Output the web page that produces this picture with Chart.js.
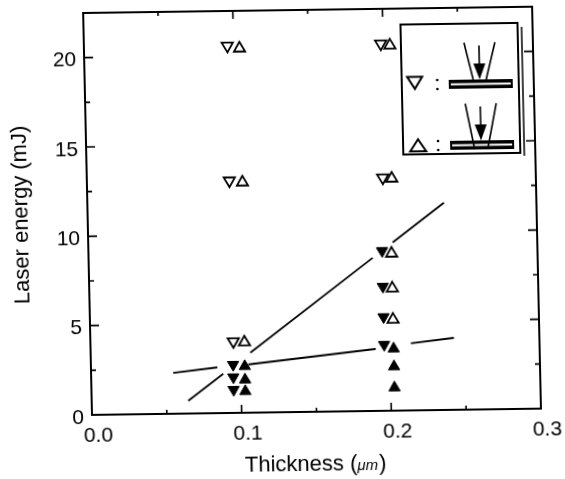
<!DOCTYPE html>
<html>
<head>
<meta charset="utf-8">
<script src="https://cdn.jsdelivr.net/npm/chart.js@4.4.0/dist/chart.umd.min.js"></script>
<style>
  html, body { margin: 0; padding: 0; background: #fff; }
  #wrap { width: 565px; height: 479px; overflow: hidden; }
  /* the scanned figure is slightly skewed */
  #myChart { transform-origin: 92px 415px; transform: matrix(1, -0.014, 0.022, 1, 0, 0); }
</style>
</head>
<body>
<div id="wrap"><canvas id="myChart" width="565" height="479"></canvas></div>
<script>
let xTicks = [0, 0.1, 0.2, 0.3];
let xTickLabels = ['0.0', '0.1', '0.2', '0.3'];
let yTicks = [0, 5, 10, 15, 20];
let yTickLabels = ['0', '5', '10', '15', '20'];

// open down triangles
let openDownX = [0.0958, 0.0952, 0.0955, 0.1983, 0.1977];
let openDownY = [20.55, 13.0, 4.0, 20.55, 13.05];
// open up triangles
let openUpX = [0.1039, 0.1039, 0.1029, 0.2044, 0.2037, 0.2025, 0.2025, 0.2025];
let openUpY = [20.4, 12.9, 3.95, 20.45, 13.0, 8.8, 6.85, 5.1];
// filled down triangles
let fillDownX = [0.095, 0.095, 0.095, 0.1962, 0.1962, 0.1962, 0.1962];
let fillDownY = [2.7, 2.0, 1.3, 8.95, 6.95, 5.25, 3.7];
// filled up triangles
let fillUpX = [0.1028, 0.1028, 0.1028, 0.2025, 0.2025, 0.2025];
let fillUpY = [2.6, 1.85, 1.2, 3.47, 2.47, 1.29];

// fitted lines (null = gap around the markers)
let steepX = [0.0645, 0.0883, 0.0975, 0.1067, 0.1898, 0.1966, 0.2034, 0.2382];
let steepY = [0.71, 2.2, null, 3.36, 8.57, null, 9.42, 11.6];
let shallowX = [0.0549, 0.0844, 0.0948, 0.1052, 0.1905, 0.2023, 0.2141, 0.2429];
let shallowY = [2.29, 2.56, null, 2.7, 3.47, null, 3.76, 4.03];

function pts(xs, ys) {
    return xs.map(function (x, i) { return { x: x, y: ys[i] }; });
}

var FONT = '"Liberation Sans", Arial, sans-serif';

function markerSet(xs, ys, rot, filled) {
    return {
        data: pts(xs, ys),
        pointStyle: 'triangle',
        rotation: rot,
        pointRadius: 6.5,
        borderColor: '#000',
        pointBorderColor: '#000',
        pointBackgroundColor: filled ? '#000' : '#fff',
        pointBorderWidth: filled ? 1 : 1.8,
        showLine: false,
        order: 1
    };
}

function lineSet(xs, ys) {
    return {
        data: pts(xs, ys),
        showLine: true,
        spanGaps: false,
        borderColor: '#000',
        borderWidth: 1.8,
        pointRadius: 0,
        order: 10
    };
}

var frame = {
    id: 'frame',
    afterDatasetsDraw: function (chart) {
        var ctx = chart.ctx, a = chart.chartArea;
        var xs = chart.scales.x, ys = chart.scales.y;
        ctx.save();
        ctx.strokeStyle = '#000';
        ctx.lineWidth = 2;
        ctx.strokeRect(a.left, a.top, a.right - a.left, a.bottom - a.top);
        ctx.lineWidth = 1.6;
        ctx.beginPath();
        xTicks.forEach(function (v, i) {
            var p = xs.getPixelForValue(v);
            ctx.moveTo(p, a.bottom); ctx.lineTo(p, a.bottom - 8);
            ctx.moveTo(p, a.top); ctx.lineTo(p, a.top + 8);
            if (i < xTicks.length - 1) {
                var m = xs.getPixelForValue((v + xTicks[i + 1]) / 2);
                ctx.moveTo(m, a.bottom); ctx.lineTo(m, a.bottom - 4);
                ctx.moveTo(m, a.top); ctx.lineTo(m, a.top + 4);
            }
        });
        yTicks.forEach(function (v) {
            var p = ys.getPixelForValue(v);
            ctx.moveTo(a.left, p); ctx.lineTo(a.left + 9, p);
            ctx.moveTo(a.right, p); ctx.lineTo(a.right - 9, p);
            var m = ys.getPixelForValue(v + 2.5);
            if (m > a.top + 2) {
                ctx.moveTo(a.left, m); ctx.lineTo(a.left + 5, m);
                ctx.moveTo(a.right, m); ctx.lineTo(a.right - 5, m);
            }
        });
        ctx.stroke();
        ctx.restore();
    },
    afterDraw: function (chart) {
        var ctx = chart.ctx;
        ctx.save();
        // inset legend
        ctx.fillStyle = '#fff';
        ctx.strokeStyle = '#000';
        ctx.lineWidth = 2;
        ctx.fillRect(409, 29, 117, 130);
        ctx.strokeRect(409, 29, 117, 130);
        ctx.lineWidth = 1.5;
        ctx.beginPath();
        ctx.moveTo(530, 33); ctx.lineTo(530, 162);
        ctx.stroke();

        function tri(cx, cy, w, h, down) {
            ctx.beginPath();
            if (down) {
                ctx.moveTo(cx - w / 2, cy - h / 2); ctx.lineTo(cx + w / 2, cy - h / 2); ctx.lineTo(cx, cy + h / 2);
            } else {
                ctx.moveTo(cx - w / 2, cy + h / 2); ctx.lineTo(cx + w / 2, cy + h / 2); ctx.lineTo(cx, cy - h / 2);
            }
            ctx.closePath();
            ctx.lineWidth = 2;
            ctx.stroke();
        }
        function dots(x, y1, y2) {
            ctx.fillStyle = '#000';
            ctx.beginPath(); ctx.arc(x, y1, 1.3, 0, Math.PI * 2); ctx.fill();
            ctx.beginPath(); ctx.arc(x, y2, 1.3, 0, Math.PI * 2); ctx.fill();
        }
        function sample(top, through) {
            var cx = 487;
            ctx.fillStyle = '#000';
            ctx.fillRect(456, top, 64, 9);
            ctx.fillStyle = '#fff';
            ctx.fillRect(458, top + 3.5, 60, 2);
            ctx.strokeStyle = '#000';
            ctx.lineWidth = 1.6;
            var end = through ? top + 9 : top;
            ctx.beginPath();
            ctx.moveTo(cx - 15, top - 37); ctx.lineTo(cx - 6.5, end);
            ctx.moveTo(cx + 16, top - 37); ctx.lineTo(cx + 6.5, end);
            ctx.moveTo(cx, top - 34); ctx.lineTo(cx, top - 14);
            ctx.stroke();
            ctx.fillStyle = '#000';
            ctx.beginPath();
            ctx.moveTo(cx - 6, top - 16); ctx.lineTo(cx + 6, top - 16); ctx.lineTo(cx, top);
            ctx.closePath(); ctx.fill();
        }
        ctx.strokeStyle = '#000';
        tri(422, 87.5, 15, 12, true);
        dots(444.5, 85, 94);
        sample(85, false);
        tri(424, 150, 16, 12, false);
        dots(444, 146, 155);
        sample(146, true);

        // x axis title with small micro-metre unit
        ctx.fillStyle = '#000';
        ctx.textBaseline = 'alphabetic';
        var f1 = '22px ' + FONT, f2 = 'italic 15px ' + FONT;
        var s1 = 'Thickness (', s2 = '\u03bcm', s3 = ')';
        ctx.font = f1; var w1 = ctx.measureText(s1).width, w3 = ctx.measureText(s3).width;
        ctx.font = f2; var w2 = ctx.measureText(s2).width;
        var x0 = 314 - (w1 + w2 + w3) / 2, by = 474;
        ctx.font = f1; ctx.fillText(s1, x0, by);
        ctx.font = f2; ctx.fillText(s2, x0 + w1, by);
        ctx.font = f1; ctx.fillText(s3, x0 + w1 + w2 + 1, by);
        ctx.restore();
    }
};

var ctx = document.getElementById('myChart');
var myChart = new Chart(ctx, {
    type: 'scatter',
    data: {
        datasets: [
            markerSet(openDownX, openDownY, 180, false),
            markerSet(openUpX, openUpY, 0, false),
            markerSet(fillDownX, fillDownY, 180, true),
            markerSet(fillUpX, fillUpY, 0, true),
            lineSet(steepX, steepY),
            lineSet(shallowX, shallowY)
        ]
    },
    options: {
        responsive: false,
        animation: false,
        events: [],
        layout: { padding: { left: 0, right: 24, top: 13, bottom: 0 } },
        plugins: { legend: { display: false }, tooltip: { enabled: false } },
        scales: {
            x: {
                type: 'linear', min: 0, max: 0.3,
                grid: { display: false, drawTicks: false },
                border: { display: false },
                afterBuildTicks: function (s) { s.ticks = xTicks.map(function (v) { return { value: v }; }); },
                afterFit: function (s) { s.height = 64; s.paddingLeft = 0; s.paddingRight = 0; },
                ticks: {
                    color: '#000', padding: 9, labelOffset: 6, maxRotation: 0,
                    font: { family: FONT, size: 21 },
                    callback: function (v, i) { return xTickLabels[i]; }
                }
            },
            y: {
                type: 'linear', min: 0, max: 22.5,
                grid: { display: false, drawTicks: false },
                border: { display: false },
                afterBuildTicks: function (s) { s.ticks = yTicks.map(function (v) { return { value: v }; }); },
                afterFit: function (s) { s.width = 92; s.paddingTop = 0; s.paddingBottom = 0; },
                ticks: {
                    color: '#000', padding: 8, labelOffset: 3,
                    font: { family: FONT, size: 21 },
                    callback: function (v, i) { return yTickLabels[i]; }
                },
                title: {
                    display: true, text: 'Laser energy (mJ)', color: '#000',
                    font: { family: FONT, size: 22 }, padding: { top: 13, bottom: 0 }
                }
            }
        }
    },
    plugins: [frame]
});
</script>
</body>
</html>
